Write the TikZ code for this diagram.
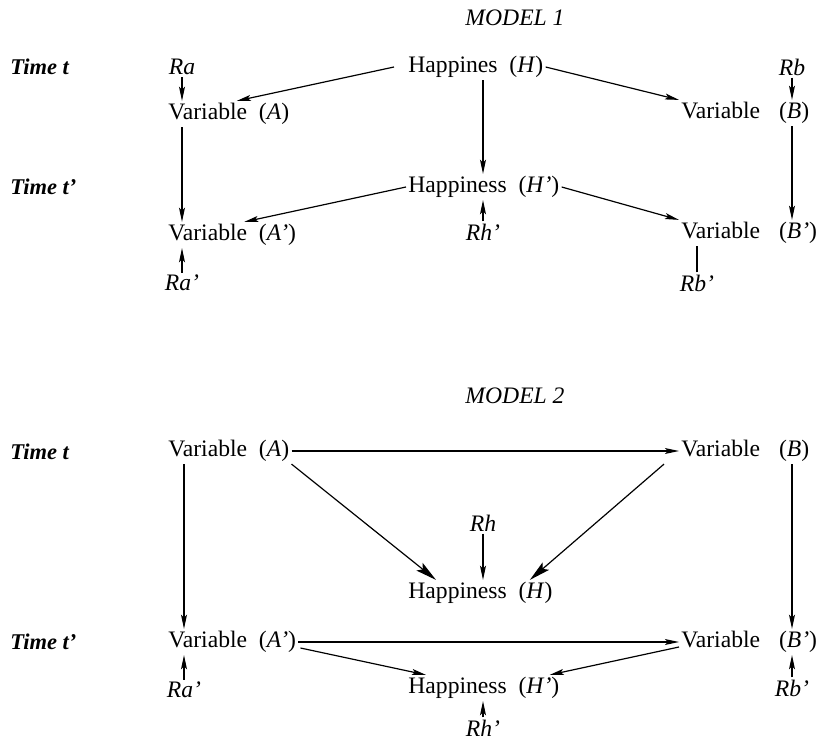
\documentclass[tikz,border=0pt]{standalone}
\usepackage{fontspec}
\setmainfont{Liberation Serif}
\usetikzlibrary{calc,arrows.meta}

\newcommand{\varAB}[1]{Variable\enspace(\textit{#1})}
\newcommand{\varBB}[1]{Variable\hspace{0.8em}(\textit{#1})}

\begin{document}
\begin{tikzpicture}[x=0.025cm,y=-0.025cm,
  every node/.style={font=\fontsize{16.8}{19}\selectfont, inner sep=1.5pt},
  resid/.style={font=\fontsize{16.8}{19}\selectfont\itshape},
  timelbl/.style={anchor=west, font=\fontsize{16}{19}\selectfont\bfseries\itshape},
  title/.style={font=\fontsize{16.8}{19}\selectfont\itshape},
  var/.style={anchor=west},
  arr/.style={line width=0.85pt, -{Stealth[length=10pt,width=4.2pt,inset=2pt]}},
  bigarr/.style={line width=0.85pt, -{Stealth[length=15pt,width=7pt,inset=3pt]}},
  plain/.style={line width=0.85pt}]
  \useasboundingbox (0,0) rectangle (818,742);

  % --------------------
  % Model 1
  % --------------------
  \node[title] (title1) at (515,18) {MODEL 1};
  \node[timelbl] (tt1) at (8,67) {Time t};
  \node[timelbl] (tp1) at (8,187) {Time t'};

  \node[resid] (ra1) at (182,67) {Ra};
  \node[var] (a1) at (166,114) {\varAB{A}};
  \node[var] (h1) at (406,67) {Happines\enspace(\textit{H})};
  \node[resid] (rb1) at (792,67) {Rb};
  \node[var] (b1) at (679,113) {\varBB{B}};

  \node[var] (h1p) at (406,187) {Happiness\enspace(\textit{H'})};
  \node[var] (a1p) at (166,235) {\varAB{A'}};
  \node[var] (b1p) at (679,233) {\varBB{B'}};
  \node[resid] (rh1p) at (483,232) {Rh'};
  \node[resid] (ra1p) at (182,283) {Ra'};
  \node[resid] (rb1p) at (697,283) {Rb'};

  % arrows, time t
  \draw[arr] (ra1.south) -- (ra1.south |- a1.north);
  \draw[arr] ($(h1.west)+(-12,0)$) -- ($(a1.north)+(8,0)$);
  \draw[arr] (h1.east) -- (b1.north west);
  \draw[arr] (rb1.south) -- (rb1.south |- b1.north);
  % arrows, t to t'
  \draw[arr] (a1.south -| ra1) -- (a1p.north -| ra1);
  \draw[arr] (h1.south -| rh1p) -- (h1p.north -| rh1p);
  \draw[arr] (b1.south -| rb1) -- (b1p.north -| rb1);
  % arrows, time t'
  \draw[arr] (h1p.west) -- ($(a1p.north)+(12,0)$);
  \draw[arr] (h1p.east) -- (b1p.north west);
  \draw[arr] (rh1p.north) -- (rh1p.north |- h1p.south);
  \draw[arr] (ra1p.north) -- (ra1p.north |- a1p.south);
  \draw[plain] (rb1p.north) -- (rb1p.north |- b1p.south);

  % --------------------
  % Model 2
  % --------------------
  \node[title] (title2) at (515,396) {MODEL 2};
  \node[timelbl] (tt2) at (8,452) {Time t};
  \node[timelbl] (tp2) at (8,642) {Time t'};

  \node[var] (a2) at (166,451) {\varAB{A}};
  \node[var] (b2) at (679,451) {\varBB{B}};
  \node[resid] (rh2) at (483,523) {Rh};
  \node[var] (h2) at (406,593) {Happiness\enspace(\textit{H})};

  \node[var] (a2p) at (166,642) {\varAB{A'}};
  \node[var] (b2p) at (679,642) {\varBB{B'}};
  \node[var] (h2p) at (406,688) {Happiness\enspace(\textit{H'})};
  \node[resid] (ra2p) at (184,690) {Ra'};
  \node[resid] (rb2p) at (792,688) {Rb'};
  \node[resid] (rh2p) at (483,728) {Rh'};

  % arrows, time t
  \draw[arr] (a2.east) -- (b2.west);
  \draw[bigarr] (a2.south east) -- ($(h2.north west)+(30,0)$);
  \draw[bigarr] ($(b2.south west)+(-15,0)$) -- ($(h2.north east)+(-25,0)$);
  \draw[arr] (rh2.south) -- (rh2.south |- h2.north);
  % arrows, t to t'
  \draw[arr] (a2.south -| ra2p) -- (a2p.north -| ra2p);
  \draw[arr] (b2.south -| rb2p) -- (b2p.north -| rb2p);
  % arrows, time t'
  \draw[arr] (a2p.east) -- (b2p.west);
  \draw[arr] ($(a2p.east)+(2,6)$) -- ($(h2p.north west)+(20,0)$);
  \draw[arr] ($(b2p.west)+(0,5)$) -- ($(h2p.north east)+(-12,0)$);
  \draw[arr] (ra2p.north) -- (ra2p.north |- a2p.south);
  \draw[arr] (rb2p.north) -- (rb2p.north |- b2p.south);
  \draw[arr] (rh2p.north) -- (rh2p.north |- h2p.south);
\end{tikzpicture}
\end{document}
